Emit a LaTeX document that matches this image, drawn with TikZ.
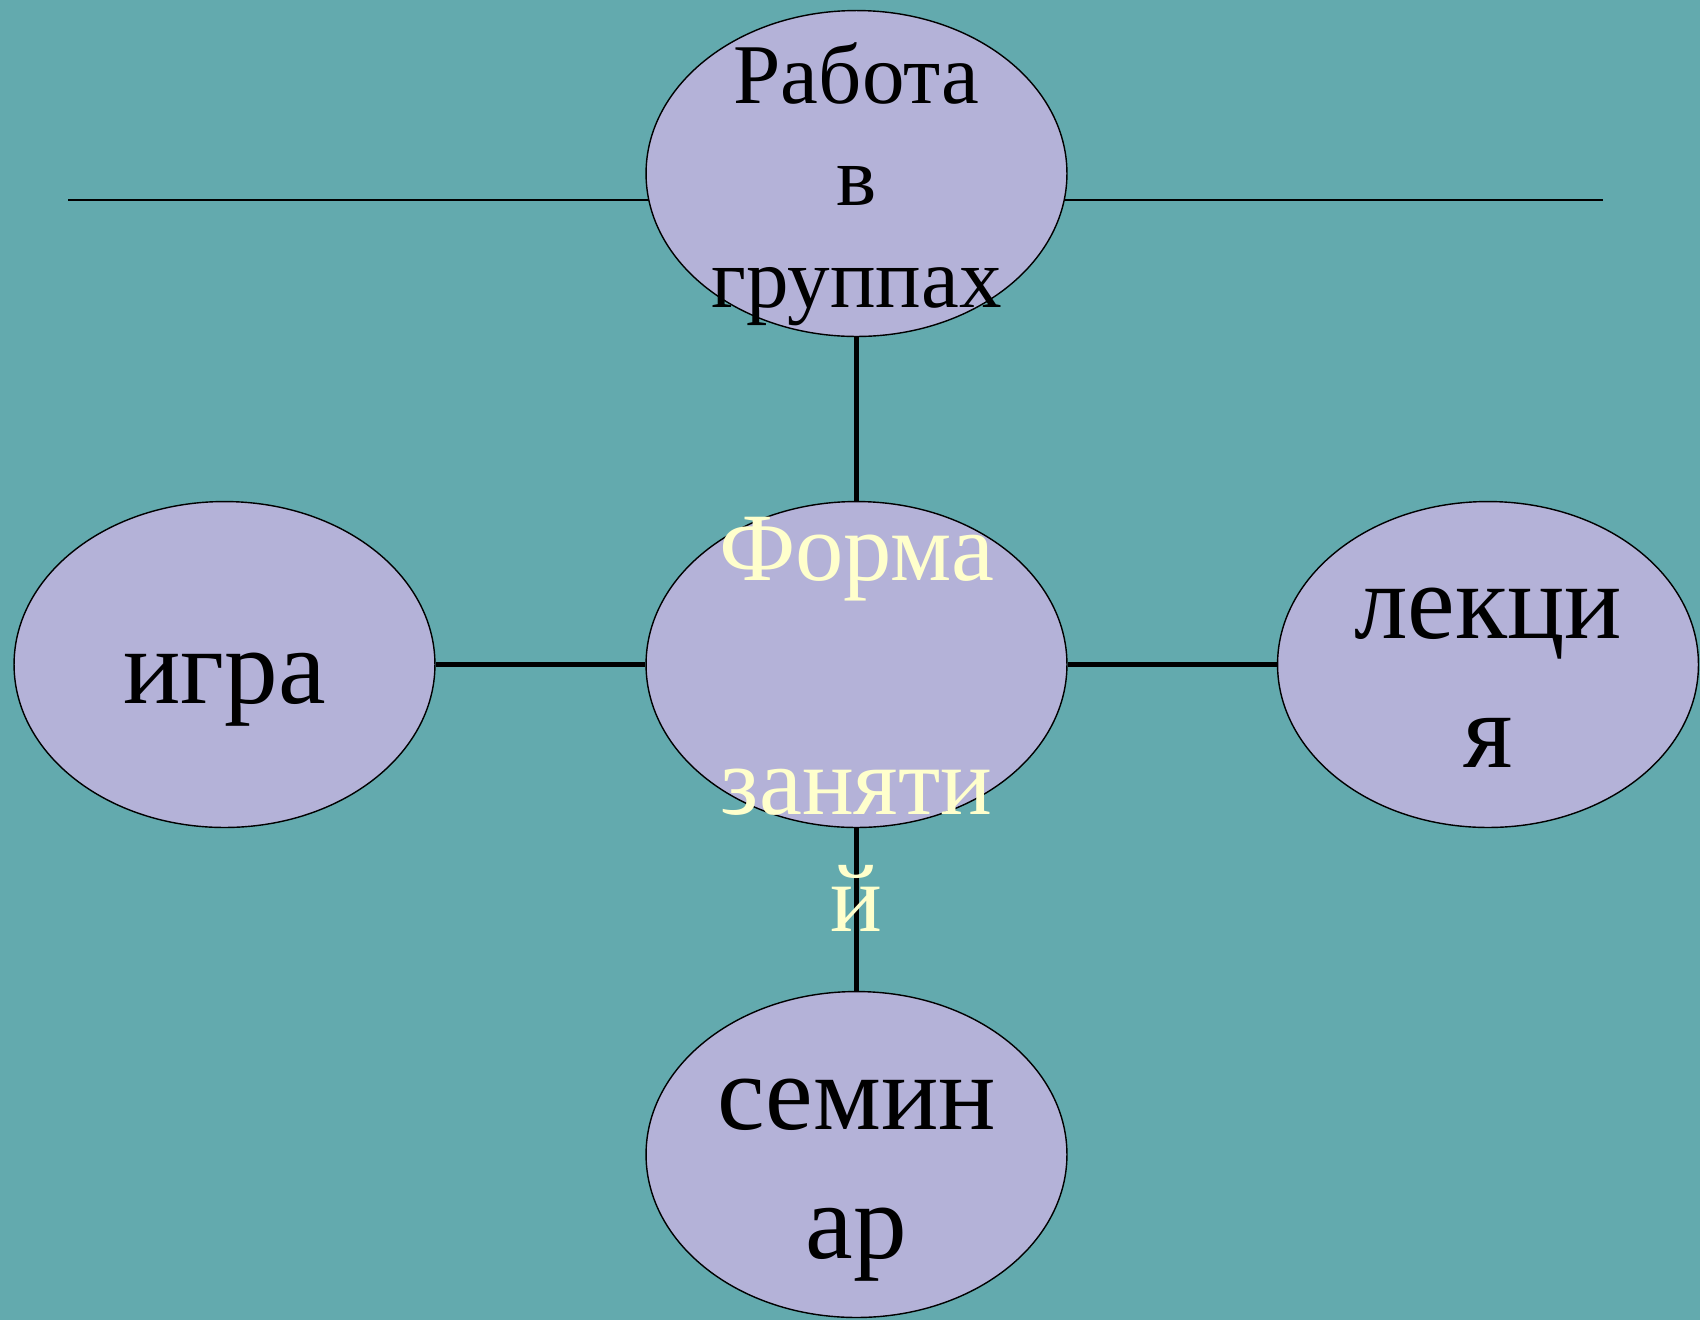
\documentclass[tikz,border=0pt]{standalone}
\usepackage{fontspec}
\setmainfont{Liberation Serif}
\usetikzlibrary{shapes.geometric}
\definecolor{bgteal}{RGB}{99,170,174}
\definecolor{ovalfill}{RGB}{180,178,216}
\definecolor{formtext}{RGB}{255,255,204}

\begin{document}
\begin{tikzpicture}[x=0.02cm,y=-0.02cm]
\tikzset{oval style/.style={shape=ellipse,draw=black,fill=ovalfill,line width=0.8pt,
                            minimum width=8.42cm,minimum height=6.52cm,inner sep=0pt},
         text style/.style={align=center,anchor=base,inner sep=0pt,
                            font=\fontsize{61}{73}\selectfont}}

\fill[bgteal] (0,0) rectangle (1700,1320);
\useasboundingbox (0,0) rectangle (1700,1320);

\coordinate (lineL) at (68,200);
\coordinate (lineR) at (1603,200);
\draw[line width=1.1pt] (lineL) -- (lineR);

\node[oval style] at (856.5,173.5)  (top)     {};
\node[oval style] at (856.5,664.5)  (forma)   {};
\node[oval style] at (224.5,664.5)  (igra)    {};
\node[oval style] at (1488,664.5)   (lekcia)  {};
\node[oval style] at (856.5,1154.5) (seminar) {};

\draw[line width=2.3pt]
            (top)     edge (forma)
            (igra)    edge (forma)
            (forma)   edge (lekcia)
            (forma)   edge (seminar)
;

% anchor=base sits on the last line
\node[text style,font=\fontsize{48.4}{58}\selectfont] at (856.5,307) (topText) {Работа\\в\\группах};
\node[text style,text=formtext,font=\fontsize{55}{66.5}\selectfont] at (856.5,931) (formaText) {Форма\\\mbox{}\\заняти\\й};
\node[text style] at (224.5,703)  (igraText)    {игра};
\node[text style] at (1488,767)   (lekciaText)  {лекци\\я};
\node[text style] at (856.5,1258) (seminarText) {семин\\ар};
\end{tikzpicture}
\end{document}
